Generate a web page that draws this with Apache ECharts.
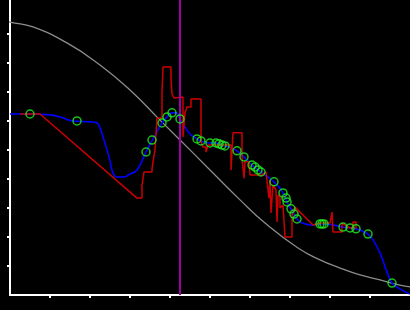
<!DOCTYPE html>
<html><head><meta charset="utf-8">
<script src="https://cdn.jsdelivr.net/npm/echarts@6/dist/echarts.min.js"></script>
<style>html,body{margin:0;padding:0;background:#000}#c{width:410px;height:310px}</style>
</head><body><div id="c"></div>
<script>
// Gray reference curve [x, y]
const grayCurve = [[-0.25,9.52],[0,9.41],[0.575,9.24],[1.425,8.69],[2.25,7.93],[3.0,7.07],[3.75,6.03],[4.625,4.83],[5.0,4.31],[5.75,3.28],[6.375,2.48],[7.2,1.62],[7.75,1.21],[8.25,0.93],[8.75,0.69],[9.25,0.52],[9.75,0.34],[10,0.28]];
// Blue fitted line [x, y]
const blueFit = [[0,6.24],[0.5,6.24],[1.0,6.21],[1.25,6.14],[1.575,6.0],[2.0,5.97],[2.175,5.93],[2.25,5.76],[2.325,5.45],[2.425,5.0],[2.5,4.62],[2.575,4.21],[2.675,4.07],[2.825,4.07],[3.0,4.17],[3.175,4.31],[3.4,4.93],[3.55,5.31],[3.7,5.69],[3.8,5.93],[3.925,6.14],[4.05,6.28],[4.15,6.28],[4.25,6.07],[4.375,5.79],[4.5,5.55],[4.675,5.38],[4.775,5.31],[5.0,5.24],[5.15,5.24],[5.3,5.17],[5.375,5.14],[5.525,5.07],[5.675,4.97],[5.85,4.76],[6.05,4.48],[6.2,4.31],[6.275,4.24],[6.45,4.07],[6.6,3.90],[6.725,3.72],[6.825,3.52],[6.925,3.21],[7.025,2.97],[7.1,2.79],[7.175,2.62],[7.3,2.48],[7.55,2.41],[7.75,2.45],[7.85,2.45],[8.1,2.41],[8.325,2.34],[8.5,2.31],[8.65,2.28],[8.8,2.21],[8.95,2.10],[9.075,1.90],[9.25,1.45],[9.425,0.79],[9.55,0.41],[9.75,0.21],[10.0,0.03]];
// Red raw signal [x, y]
const redRaw = [[0.25,6.24],[0.75,6.24],[3.175,3.34],[3.3,3.34],[3.3,3.79],[3.35,3.79],[3.35,4.24],[3.55,4.24],[3.55,4.34],[3.575,4.34],[3.575,4.59],[3.625,4.59],[3.625,5.0],[3.675,5.0],[3.675,6.10],[3.8,6.10],[3.8,6.97],[3.825,6.97],[3.825,7.86],[4.025,7.86],[4.025,7.48],[4.05,7.48],[4.05,6.93],[4.1,6.79],[4.15,6.79],[4.15,6.83],[4.325,6.83],[4.325,5.45],[4.375,5.45],[4.375,6.28],[4.425,6.28],[4.425,6.48],[4.525,6.48],[4.525,6.76],[4.775,6.76],[4.775,5.28],[4.825,5.28],[4.825,5.10],[4.9,5.10],[4.9,4.93],[4.95,4.93],[4.95,5.17],[5.525,5.17],[5.525,4.31],[5.575,4.31],[5.575,5.59],[5.8,5.59],[5.8,4.72],[5.825,4.72],[5.85,4.03],[5.875,4.59],[5.975,4.59],[6.0,4.14],[6.3,4.14],[6.4,4.24],[6.45,4.24],[6.475,3.34],[6.5,3.97],[6.525,2.83],[6.575,3.79],[6.65,3.62],[6.675,2.52],[6.7,3.45],[6.75,3.38],[6.75,3.0],[6.825,3.10],[6.875,2.0],[7.05,2.0],[7.05,2.76],[7.125,3.03],[7.575,2.41],[7.75,2.48],[8.0,2.48],[8.05,2.86],[8.075,2.17],[8.3,2.17],[8.3,2.48],[8.5,2.31],[8.575,2.31],[8.575,2.52],[8.65,2.52],[8.65,2.28]];
// Green observation points [x, y]
const points = [[0.5,6.24],[1.675,6.0],[3.4,4.93],[3.55,5.34],[3.8,5.93],[3.925,6.14],[4.05,6.28],[4.25,6.07],[4.675,5.38],[4.775,5.31],[5.0,5.24],[5.15,5.24],[5.225,5.21],[5.3,5.17],[5.375,5.14],[5.675,4.97],[5.85,4.76],[6.05,4.48],[6.125,4.41],[6.2,4.31],[6.275,4.24],[6.6,3.90],[6.825,3.52],[6.9,3.34],[6.925,3.21],[7.025,2.97],[7.1,2.79],[7.175,2.62],[7.75,2.45],[7.8,2.45],[7.85,2.45],[8.325,2.34],[8.5,2.31],[8.65,2.28],[8.95,2.10],[9.55,0.41]];
// Vertical marker position
const markerX = 4.25;
const xTicks = [1,2,3,4,5,6,7,8,9];
const yTicks = [1,2,3,4,5,6,7,8,9];

const chart = echarts.init(document.getElementById('c'), null, {renderer:'canvas'});
chart.setOption({
  backgroundColor:'#000',
  animation:false,
  grid:{left:10,right:0,top:0,bottom:15,containLabel:false},
  xAxis:{type:'value',min:0,max:10,interval:1,
    axisLine:{show:true,onZero:false,lineStyle:{color:'#fff',width:2}},
    axisTick:{show:true,length:3,inside:false,customValues:xTicks,lineStyle:{color:'#fff',width:2}},
    axisLabel:{show:false},splitLine:{show:false}},
  yAxis:{type:'value',min:0,max:10.17,interval:1,
    axisLine:{show:true,onZero:false,lineStyle:{color:'#fff',width:2}},
    axisTick:{show:true,length:3,inside:false,customValues:yTicks,lineStyle:{color:'#fff',width:2}},
    axisLabel:{show:false},splitLine:{show:false}},
  series:[
    {type:'line',data:grayCurve,smooth:true,showSymbol:false,clip:false,z:1,
      lineStyle:{color:'#8c8c8c',width:1.3}},
    {type:'line',data:blueFit,smooth:true,showSymbol:false,z:2,
      lineStyle:{color:'#0000ff',width:1.6}},
    {type:'line',data:redRaw,smooth:false,showSymbol:false,z:3,
      lineStyle:{color:'#cc0000',width:1.5},
      markLine:{silent:true,symbol:['none','none'],label:{show:false},
        lineStyle:{color:'#a000a8',width:2,type:'solid'},data:[{xAxis:markerX}]}},
    {type:'scatter',data:points,symbol:'circle',symbolSize:8,z:5,
      itemStyle:{color:'rgba(0,0,0,0)',borderColor:'#22ee22',borderWidth:1.5}}
  ]
});
</script></body></html>
